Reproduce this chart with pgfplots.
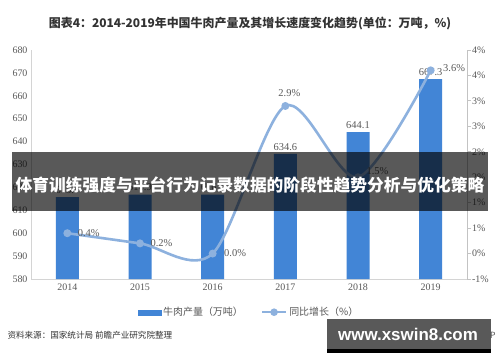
\documentclass[border=0pt]{standalone}
\usepackage{pgfplots}
\pgfplotsset{compat=1.18}
\usepackage{fontspec}
\setmainfont{Liberation Serif}
\newfontfamily\cjk{Noto Sans CJK SC}
\newfontfamily\lsans{Liberation Sans}
\definecolor{barblue}{HTML}{4285D6}
\definecolor{linecol}{HTML}{8DB1DE}
\definecolor{txtgray}{HTML}{595959}
\definecolor{axgray}{HTML}{D4D4D4}
\definecolor{titlecol}{HTML}{333333}
\begin{document}
\begin{tikzpicture}[x=1bp,y=1bp]
\path[use as bounding box, fill=white] (0,0) rectangle (500,362);
% title
\node[font=\cjk\bfseries\fontsize{12}{14}\selectfont, text=titlecol] at (250,338) {图表4：2014-2019年中国牛肉产量及其增长速度变化趋势(单位：万吨，\%)};
% bars
\begin{axis}[
  at={(31bp,83bp)}, anchor=south west,
  scale only axis, width=436bp, height=229bp,
  xmin=-0.5, xmax=5.5, ymin=580, ymax=680,
  ytick={580,590,...,680},
  xtick={0,1,2,3,4,5}, xticklabels={2014,2015,2016,2017,2018,2019},
  axis y line*=left, axis x line*=bottom,
  axis line style={axgray, line width=0.8bp},
  major tick length=0pt,
  /pgf/number format/assume math mode=true,
  ticklabel style={font=\fontsize{10}{12}\selectfont, text=txtgray},
  xticklabel style={yshift=-1bp},
  clip=false,
]
\addplot[ybar, bar width=23bp, fill=barblue, draw=none,
  nodes near coords, point meta=y,
  nodes near coords style={font=\fontsize{10.5}{12}\selectfont, text=txtgray, /pgf/number format/.cd, fixed, fixed zerofill, precision=1, assume math mode=true},
] coordinates {(0,615.7) (1,616.9) (2,616.9) (3,634.6) (4,644.1) (5,667.3)};
\end{axis}
% growth line
\begin{axis}[
  at={(31bp,83bp)}, anchor=south west,
  scale only axis, width=436bp, height=229bp,
  xmin=-0.5, xmax=5.5, ymin=-0.5, ymax=4,
  axis y line*=right, axis x line=none,
  ytick={-0.5,0,0.5,1,1.5,2,2.5,3,3.5,4},
  yticklabels={-1\%,0\%,1\%,1\%,2\%,2\%,3\%,3\%,4\%,4\%},
  axis line style={axgray!80!gray, line width=0.8bp},
  tick style={axgray!80!gray, line width=0.8bp},
  tick align=outside, major tick length=4bp,
  ticklabel style={font=\fontsize{10}{12}\selectfont, text=txtgray},
  yticklabel style={xshift=-2.5bp},
  clip=false,
  legend style={at={(0.5,-0.145)}, anchor=center, draw=none, fill=none,
    legend columns=2, font=\cjk\fontsize{10}{12}\selectfont, text=txtgray,
    /tikz/every even column/.append style={column sep=16bp}},
  legend cell align=left,
]
\addlegendimage{legend image code/.code={\fill[barblue] (1bp,-2.5bp) rectangle (24bp,2.5bp);}}
\addlegendentry{牛肉产量（万吨）}
\addplot[linecol, line width=2.6bp, smooth, mark=*, mark size=2.6bp,
  mark options={fill=linecol, draw=linecol},
  legend image code/.code={\draw[linecol, line width=2.4bp] (0bp,0bp)--(24bp,0bp); \fill[linecol] (12bp,0bp) circle (2.4bp);}]
  coordinates {(0,0.4) (1,0.2) (2,0.0) (3,2.9) (4,1.5) (5,3.6)};
\addlegendentry{同比增长（\%）}
\node[anchor=west, font=\fontsize{10.5}{12}\selectfont, text=txtgray, xshift=7bp] at (axis cs:0,0.4) {0.4\%};
\node[anchor=west, font=\fontsize{10.5}{12}\selectfont, text=txtgray, xshift=7bp] at (axis cs:1,0.2) {0.2\%};
\node[anchor=west, font=\fontsize{10.5}{12}\selectfont, text=txtgray, xshift=8bp] at (axis cs:2,0.0) {0.0\%};
\node[anchor=south, font=\fontsize{10.5}{12}\selectfont, text=txtgray, xshift=4bp, yshift=6bp] at (axis cs:3,2.9) {2.9\%};
\node[anchor=west, font=\fontsize{10.5}{12}\selectfont, text=txtgray, xshift=5bp, yshift=6bp] at (axis cs:4,1.5) {1.5\%};
\node[anchor=west, font=\fontsize{10.5}{12}\selectfont, text=txtgray, xshift=9bp, yshift=2bp] at (axis cs:5,3.6) {3.6\%};
\end{axis}
% source
\node[anchor=west, font=\cjk\fontsize{8.6}{10}\selectfont, text=titlecol] at (4,27) {资料来源：国家统计局 前瞻产业研究院整理};
% overlay banner
\fill[black, opacity=0.65] (12,151) rectangle (488,210);
\node[font=\cjk\bfseries\fontsize{16.8}{18}\selectfont, text=white] at (250,177) {体育训练强度与平台行为记录数据的阶段性趋势分析与优化策略};
% bottom right watermark box
\node[anchor=east, font=\cjk\fontsize{8.6}{10}\selectfont, text=txtgray] at (499,27) {前瞻经济学人APP};
\fill[black!65] (327,13) rectangle (491,43);
\fill[black] (327,9) rectangle (491,13);
\node[font=\lsans\bfseries\fontsize{17}{19}\selectfont, text=white] at (408,28) {www.xswin8.com};
\end{tikzpicture}
\end{document}
